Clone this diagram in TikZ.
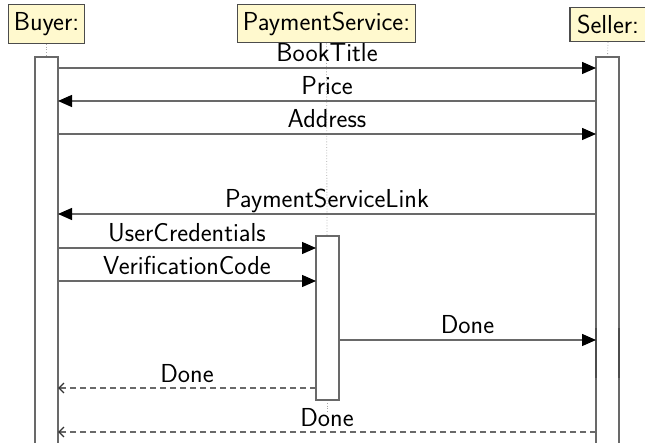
\documentclass[tikz,border=0pt]{standalone}
\usetikzlibrary{arrows.meta}
\definecolor{hdrfill}{RGB}{255,249,206}
\definecolor{lncol}{RGB}{105,105,105}
\tikzset{
  txt/.style={font=\sffamily\fontsize{26}{30}\selectfont},
  hdr/.style={txt, draw=black!70, fill=hdrfill, line width=1.2pt, inner xsep=5.5pt, inner ysep=7.5pt},
  bar/.style={draw=lncol, fill=white, line width=1.3pt},
  life/.style={draw=gray!70, dotted, line width=0.8pt},
  msg/.style={draw=lncol, line width=1.4pt, -{Triangle[length=14pt,width=12pt,black]}},
  ret/.style={draw=lncol, line width=1.3pt, dash pattern=on 6pt off 4pt, -{Straight Barb[length=5pt,width=10pt,black!80]}},
  lbl/.style={txt, anchor=base, inner sep=0pt, yshift=6pt}
}
\begin{document}
\begin{tikzpicture}[x=1pt,y=-1pt]
\useasboundingbox (0,0) rectangle (645,443);
% headers
\node[hdr] (buyer) at (46.5,24) {Buyer:};
\node[hdr] (ps) at (326.5,23.5) {PaymentService:};
\node[hdr, inner xsep=7pt] (seller) at (608,24.5) {Seller:};
% lifelines
\coordinate (bt) at (46.5,57);
\coordinate (st) at (607.5,57);
\coordinate (pt) at (327,236);
\coordinate (pb) at (327,400);
\coordinate (pe) at (327,414);
\draw[life] (buyer.south) -- (bt);
\draw[life] (seller.south) -- (st);
\draw[life] (ps.south) -- (pt);
\draw[life] (pb) -- (pe);
% activation bars
\draw[bar] (35,57) rectangle (58,446);
\draw[bar] (596,57) rectangle (619,446);
\draw[black!70, line width=1.3pt] (596,328) -- (596,378) (619,328) -- (619,378);
\draw[bar] (316,236) rectangle (339,400);
% endpoints
\coordinate (b1) at (58,68);   \coordinate (s1) at (596,68);
\coordinate (b2) at (58,101);  \coordinate (s2) at (596,101);
\coordinate (b3) at (58,134);  \coordinate (s3) at (596,134);
\coordinate (b4) at (58,214);  \coordinate (s4) at (596,214);
\coordinate (b5) at (58,248);  \coordinate (p5) at (316,248);
\coordinate (b6) at (58,281);  \coordinate (p6) at (316,281);
\coordinate (p7) at (339,340); \coordinate (s7) at (596,340);
\coordinate (p8) at (316,388); \coordinate (b8) at (58,388);
\coordinate (s9) at (596,432); \coordinate (b9) at (58,432);
% messages
\draw[msg] (b1) -- (s1) node[lbl, pos=0.5] {BookTitle};
\draw[msg] (s2) -- (b2) node[lbl, pos=0.5] {Price};
\draw[msg] (b3) -- (s3) node[lbl, pos=0.5] {Address};
\draw[msg] (s4) -- (b4) node[lbl, pos=0.5] {PaymentServiceLink};
\draw[msg] (b5) -- (p5) node[lbl, pos=0.5] {UserCredentials};
\draw[msg] (b6) -- (p6) node[lbl, pos=0.5] {VerificationCode};
\draw[msg] (p7) -- (s7) node[lbl, pos=0.5] {Done};
\draw[ret] (p8) -- (b8) node[lbl, pos=0.5] {Done};
\draw[ret] (s9) -- (b9) node[lbl, pos=0.5] {Done};
\end{tikzpicture}
\end{document}
